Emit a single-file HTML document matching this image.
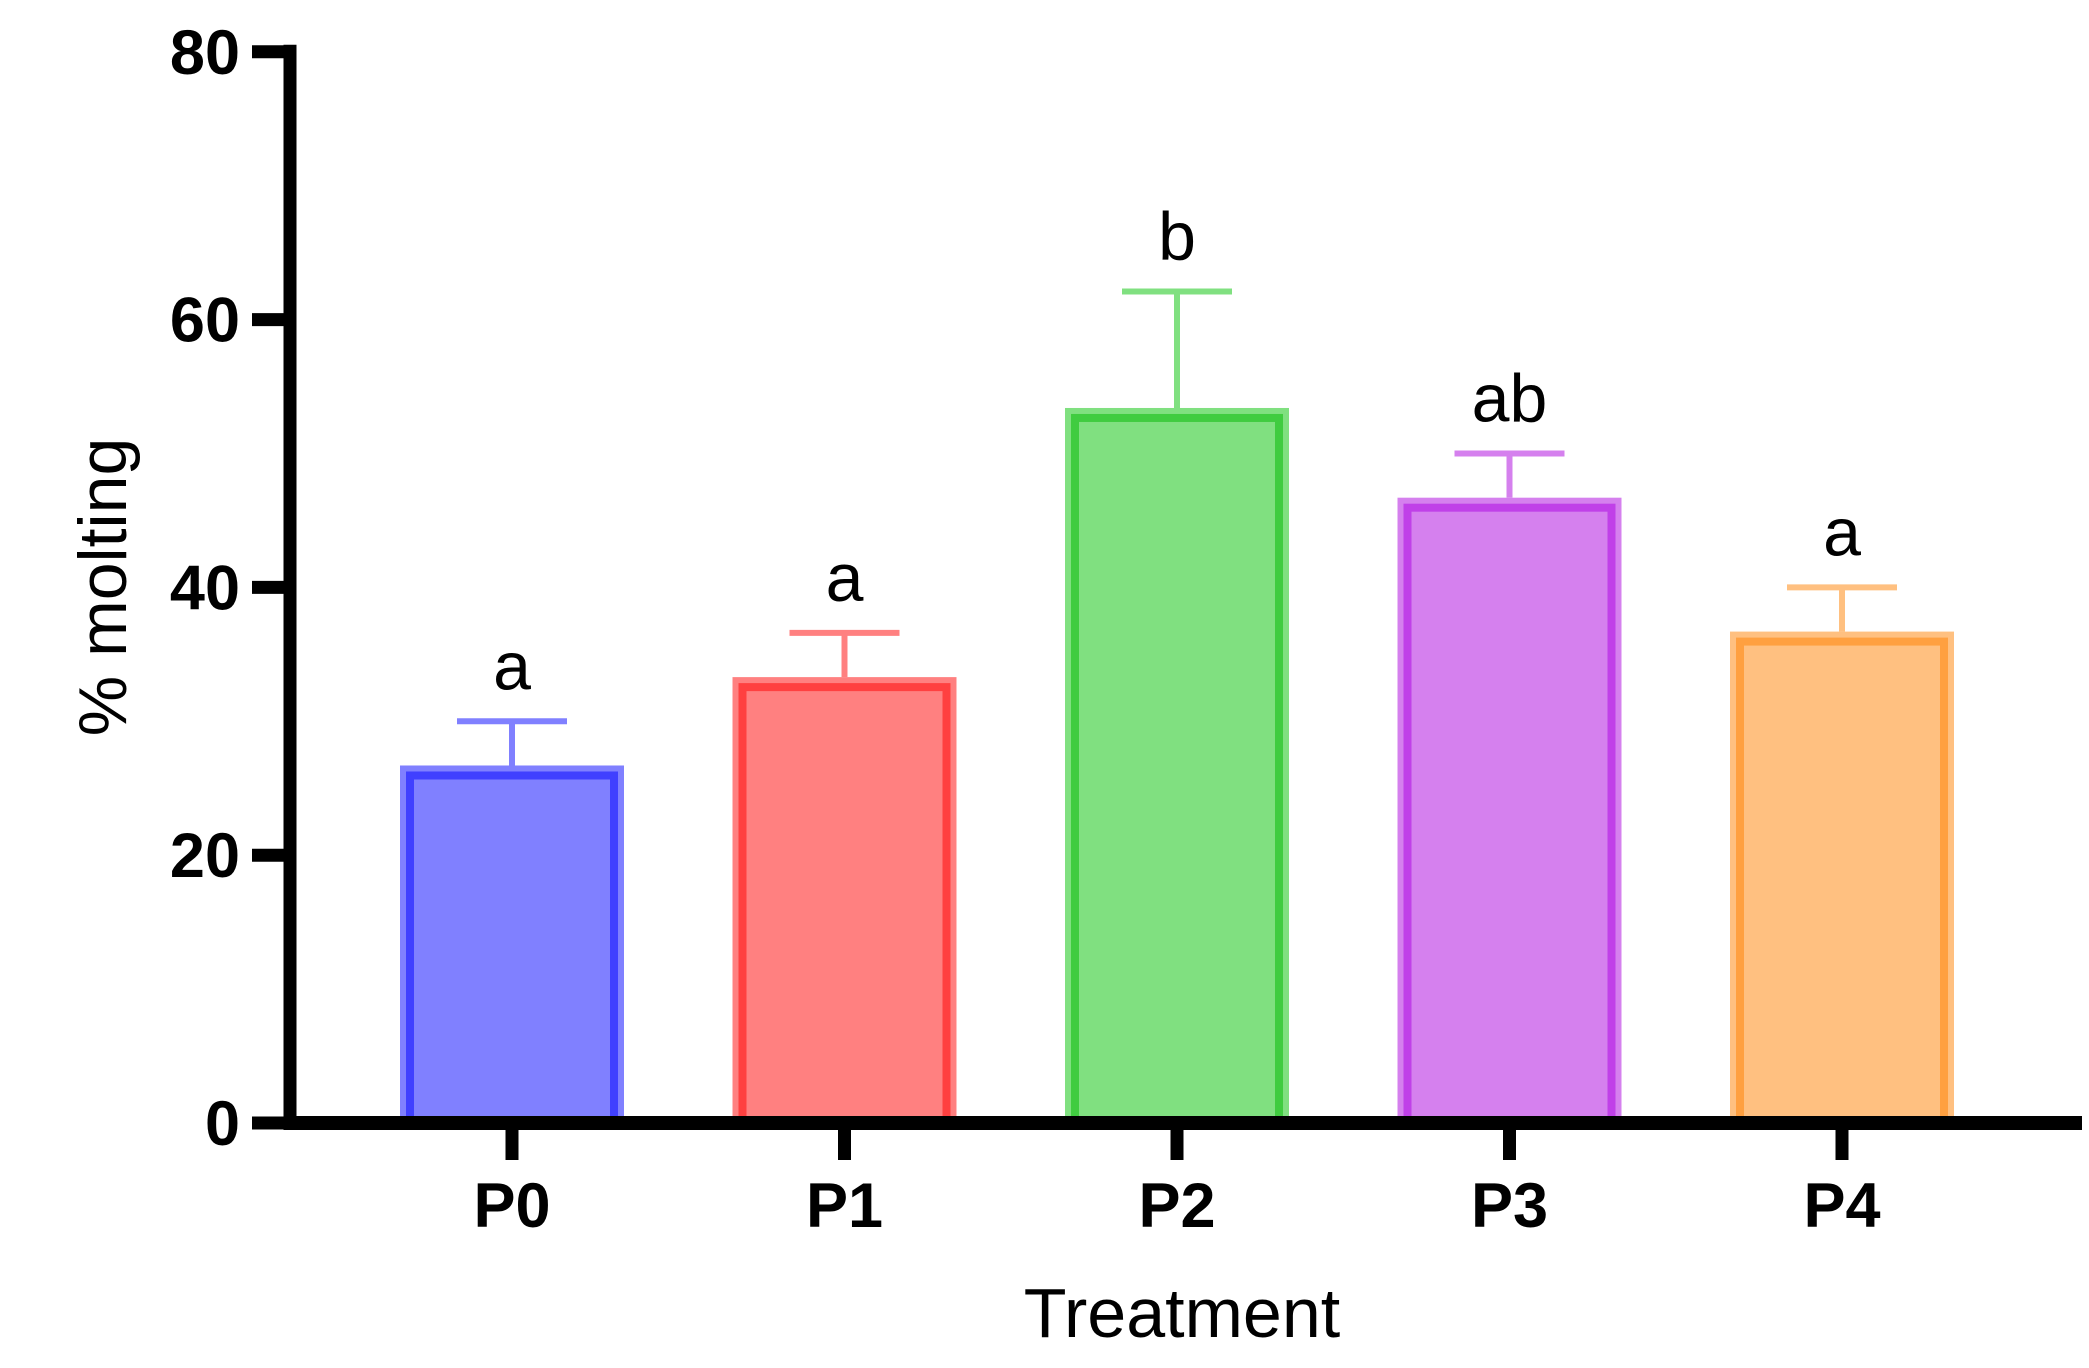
<!DOCTYPE html>
<html><head><meta charset="utf-8"><style>
html,body{margin:0;padding:0;background:#fff;}
svg{display:block;}
text{font-family:"Liberation Sans",Arial,sans-serif;}
</style></head><body>
<svg id="chart" width="2089" height="1368" viewBox="0 0 2089 1368" xmlns="http://www.w3.org/2000/svg">
<g id="bars"></g>
<g id="axes"></g>
<text x="0" y="0" transform="translate(126,587) rotate(-90)" text-anchor="middle" font-size="68">% molting</text>
<text x="1182" y="1337" text-anchor="middle" font-size="70">Treatment</text>
</svg>
<script>
const categories = ["P0","P1","P2","P3","P4"];
const means = [26.7, 33.3, 53.4, 46.7, 36.7];
const errTops = [30, 36.6, 62.1, 50, 40];
const sigLetters = ["a","a","b","ab","a"];
const yTicks = [0,20,40,60,80];
const fills = ["#8080FF","#FF8080","#80E080","#D580EE","#FFC080"];
const strokes = ["#4040FF","#FF4040","#40CC40","#C040E8","#FFA040"];

const NS="http://www.w3.org/2000/svg";
const y0=1123, yPer=13.39;
function yScale(v){return y0 - v*yPer;}
function xScale(i){return 512 + i*332.5;}
const barW=224;
function mk(tag,attrs,parent){const e=document.createElementNS(NS,tag);for(const k in attrs)e.setAttribute(k,attrs[k]);parent.appendChild(e);return e;}
const bars=document.getElementById('bars');
const axes=document.getElementById('axes');

categories.forEach((c,i)=>{
  const cx=xScale(i), top=yScale(means[i]), et=yScale(errTops[i]);
  const g=mk('g',{},bars);
  
  
  const stem=mk('line',{x1:cx,x2:cx,y1:et,y2:top,stroke:fills[i],'stroke-width':6},g);
  
  
  const cap=mk('line',{x1:cx-55,x2:cx+55,y1:et,y2:et,stroke:fills[i],'stroke-width':6},g);
  
  
  const r=mk('rect',{x:cx-barW/2,y:top,width:barW,height:y0-top,fill:fills[i]},g);
  
  
  const b=mk('rect',{x:cx-barW/2+10,y:top+10,width:barW-20,height:y0-top-10,fill:'none',stroke:strokes[i],'stroke-width':8},g);
  
  
  const t=mk('text',{x:cx,y:et-32,'text-anchor':'middle','font-size':68},g);
  t.textContent=sigLetters[i];
  
  
  const tk=mk('line',{x1:cx,x2:cx,y1:y0,y2:1160,stroke:'#000','stroke-width':13},axes);
  
  
  const lb=mk('text',{x:cx,y:1227,'text-anchor':'middle','font-size':63,'font-weight':'bold'},axes);
  lb.textContent=c;
  
  
});

const ya=mk('line',{x1:290,x2:290,y1:yScale(80)-7,y2:y0+7,stroke:'#000','stroke-width':13},axes);


const xa=mk('line',{x1:284,x2:2082,y1:y0,y2:y0,stroke:'#000','stroke-width':14},axes);


yTicks.forEach(v=>{
  const y=yScale(v);
  const tk=mk('line',{x1:252,x2:296,y1:y,y2:y,stroke:'#000','stroke-width':13},axes);
  
  
  const lb=mk('text',{x:240,y:y+22,'text-anchor':'end','font-size':63,'font-weight':'bold'},axes);
  lb.textContent=v;
  
  
});
</script>
</body></html>
